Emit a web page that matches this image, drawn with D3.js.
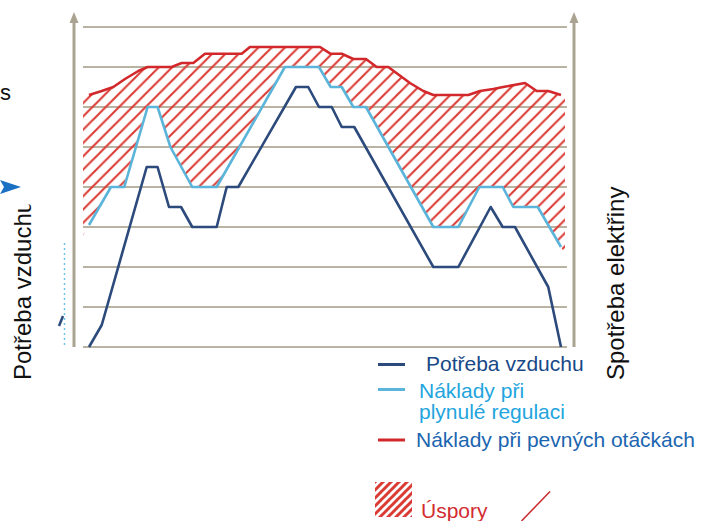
<!DOCTYPE html>
<html>
<head>
<meta charset="utf-8">
<script src="https://cdn.jsdelivr.net/npm/d3@7"></script>
<style>
  html, body { margin: 0; padding: 0; background: #ffffff; }
  svg { display: block; }
  text { font-family: "Liberation Sans", Arial, Helvetica, sans-serif; }
</style>
</head>
<body>
<svg id="chart" width="701" height="521"></svg>
<script>
// ---------------- DATA ----------------
// x = time position (0..40), y = level (0..8 grid units)
const gridLevels = [0, 1, 2, 3, 4, 5, 6, 7, 8];

// Potřeba vzduchu (air demand)
const demandT = [0, 1.08, 4.89, 5.81, 6.78, 7.8, 8.75, 10.82, 11.67, 12.65, 17.54, 18.58, 19.49, 20.57, 21.42, 22.48, 29.18, 31.3, 34.04, 35.06, 36.1, 38.92, 40];
const demandV = [0, 0.55, 4.5, 4.5, 3.5, 3.5, 3.0, 3.0, 4.0, 4.0, 6.5, 6.5, 6.0, 6.0, 5.5, 5.5, 2.0, 2.0, 3.5, 3.0, 3.0, 1.5, 0];

// Náklady při plynulé regulaci (variable speed cost)
const variableT = [0, 1.86, 2.99, 4.97, 5.81, 6.9, 8.75, 10.82, 16.6, 19.49, 20.48, 21.42, 22.4, 23.47, 29.18, 31.3, 33.08, 35.06, 35.96, 38.03, 40];
const variableV = [3.05, 4.0, 4.0, 6.0, 6.0, 5.0, 4.0, 4.0, 7.0, 7.0, 6.5, 6.5, 6.0, 6.0, 3.0, 3.0, 4.0, 4.0, 3.5, 3.5, 2.5];

// Náklady při pevných otáčkách (fixed speed cost)
const fixedT = [0, 1.08, 2.06, 3.05, 4.18, 4.97, 7.0, 7.86, 8.84, 9.83, 12.94, 13.64, 19.58, 20.48, 21.42, 22.4, 23.47, 24.38, 25.36, 27.2, 28.33, 29.18, 32.14, 33.14, 34.26, 35.1, 36.95, 37.94, 38.92, 40];
const fixedV = [6.3, 6.4, 6.5, 6.7, 6.9, 7.0, 7.0, 7.1, 7.1, 7.33, 7.33, 7.5, 7.5, 7.33, 7.33, 7.2, 7.2, 7.0, 7.0, 6.6, 6.4, 6.3, 6.3, 6.4, 6.45, 6.5, 6.6, 6.4, 6.4, 6.3];

const legendLabels = ["Potřeba vzduchu", "Náklady při", "plynulé regulaci", "Náklady při pevných otáčkách", "Úspory"];
const leftTitle = "Potřeba vzduchu";
const rightTitle = "Spotřeba elektřiny";

// ---------------- STYLE ----------------
const C = {
  grid: "#b9b3a2",
  axis: "#aaa391",
  demand: "#2c4a7b",
  variable: "#5bb4d9",
  fixed: "#d2282b",
  hatch: "#db3b35",
  legDemand: "#184886",
  legVariable: "#22a5de",
  legFixed: "#1b65b0",
  legSave: "#d32b2f"
};

const svg = d3.select("#chart");
const x = d3.scaleLinear().domain([0, 40]).range([89, 561]);
const y = d3.scaleLinear().domain([0, 8]).range([347, 27]);

const defs = svg.append("defs");
const pat = defs.append("pattern").attr("id", "hatch")
  .attr("patternUnits", "userSpaceOnUse").attr("width", 13.3).attr("height", 13.3);
pat.append("path").attr("d", "M-3.3,3.3 L3.3,-3.3 M0,13.3 L13.3,0 M10,16.6 L16.6,10")
  .attr("stroke", C.hatch).attr("stroke-width", 2.1).attr("fill", "none");

const pat2 = defs.append("pattern").attr("id", "hatchLeg")
  .attr("patternUnits", "userSpaceOnUse").attr("width", 8).attr("height", 8)
  .attr("x", 375).attr("y", 482);
pat2.append("path").attr("d", "M-2,2 L2,-2 M0,8 L8,0 M6,10 L10,6")
  .attr("stroke", C.hatch).attr("stroke-width", 3).attr("fill", "none");

// ---------------- GRID ----------------
svg.append("g").selectAll("line").data(gridLevels).join("line")
  .attr("x1", 83).attr("x2", 567)
  .attr("y1", d => y(d)).attr("y2", d => y(d))
  .attr("stroke", C.grid).attr("stroke-width", 2);

// ---------------- SAVINGS AREA ----------------
const fixedPts = fixedT.map((t, i) => [t, fixedV[i]]);
const varPts = variableT.map((t, i) => [t, variableV[i]]);
// extend the hatched band slightly past the first/last sample like in the original
function extend(pts, tNew, fromStart) {
  const a = fromStart ? pts[0] : pts[pts.length - 1];
  const b = fromStart ? pts[1] : pts[pts.length - 2];
  const slope = (a[1] - b[1]) / (a[0] - b[0]);
  return [tNew, a[1] + slope * (tNew - a[0])];
}
const tL = x.invert(83), tR = x.invert(565);
const topEdge = [[tL, fixedPts[0][1]], ...fixedPts, [tR, fixedPts[fixedPts.length - 1][1]]];
const botEdge = [extend(varPts, tL, true), ...varPts, extend(varPts, tR, false)];
const poly = topEdge.concat(botEdge.slice().reverse());
svg.append("path")
  .attr("d", d3.line().x(d => x(d[0])).y(d => y(d[1]))(poly) + "Z")
  .attr("fill", "url(#hatch)").attr("stroke", "none");

// ---------------- LINES ----------------
const lineGen = d3.line().x(d => x(d[0])).y(d => y(d[1]));
svg.append("path").datum(fixedPts).attr("d", lineGen)
  .attr("fill", "none").attr("stroke", C.fixed).attr("stroke-width", 2.6).attr("stroke-linejoin", "round");
svg.append("path").datum(varPts).attr("d", lineGen)
  .attr("fill", "none").attr("stroke", C.variable).attr("stroke-width", 2.6).attr("stroke-linejoin", "round");
svg.append("path").datum(demandT.map((t, i) => [t, demandV[i]])).attr("d", lineGen)
  .attr("fill", "none").attr("stroke", C.demand).attr("stroke-width", 2.6).attr("stroke-linejoin", "round");

// ---------------- AXES (arrows) ----------------
[74, 574].forEach(ax => {
  svg.append("line").attr("x1", ax).attr("x2", ax).attr("y1", 347).attr("y2", 20)
    .attr("stroke", C.axis).attr("stroke-width", 3);
  svg.append("path").attr("d", `M${ax - 4.5},23 L${ax},12 L${ax + 4.5},23 Z`).attr("fill", C.axis);
});

// ---------------- AXIS TITLES ----------------
defs.append("clipPath").attr("id", "leftClip").append("rect")
  .attr("x", 0).attr("y", 204.5).attr("width", 60).attr("height", 300);
svg.append("g").attr("clip-path", "url(#leftClip)")
  .append("text").attr("transform", "translate(31,380) rotate(-90)")
  .attr("font-size", 24).attr("fill", "#111").text(leftTitle);
svg.append("text").attr("transform", "translate(623.5,380) rotate(-90)")
  .attr("font-size", 24).attr("fill", "#111").text(rightTitle);

// ---------------- LEFT EDGE FRAGMENTS ----------------
svg.append("text").attr("x", 0).attr("y", 100).attr("font-size", 22).attr("fill", "#111").text("s");
svg.append("path").attr("d", "M0,180 L21,187 L0,194 L4,187 Z").attr("fill", "#1a70c2");
svg.append("line").attr("x1", 64.5).attr("x2", 64.5).attr("y1", 243).attr("y2", 347)
  .attr("stroke", "#6cc3ea").attr("stroke-width", 1.5).attr("stroke-dasharray", "2,3");
svg.append("line").attr("x1", 59).attr("x2", 63).attr("y1", 326).attr("y2", 316)
  .attr("stroke", C.demand).attr("stroke-width", 2.5);

// ---------------- LEGEND ----------------
const leg = svg.append("g");
const segs = [
  { y: 364.5, c: C.demand },
  { y: 389.5, c: C.variable },
  { y: 440, c: C.fixed }
];
leg.selectAll("line").data(segs).join("line")
  .attr("x1", 378).attr("x2", 405).attr("y1", d => d.y).attr("y2", d => d.y)
  .attr("stroke", d => d.c).attr("stroke-width", 3);

const texts = [
  { t: legendLabels[0], x: 426, y: 370.5, c: C.legDemand },
  { t: legendLabels[1], x: 419, y: 397.5, c: C.legVariable },
  { t: legendLabels[2], x: 419, y: 418.5, c: C.legVariable },
  { t: legendLabels[3], x: 416, y: 446.5, c: C.legFixed },
  { t: legendLabels[4], x: 421, y: 518, c: C.legSave }
];
leg.selectAll("text").data(texts).join("text")
  .attr("x", d => d.x).attr("y", d => d.y).attr("fill", d => d.c)
  .attr("font-size", 21).text(d => d.t);

leg.append("rect").attr("x", 375).attr("y", 482).attr("width", 37).attr("height", 35)
  .attr("fill", "url(#hatchLeg)");
leg.append("line").attr("x1", 521.5).attr("y1", 521).attr("x2", 550).attr("y2", 491.5)
  .attr("stroke", "#c8282c").attr("stroke-width", 1.5);
</script>
</body>
</html>
